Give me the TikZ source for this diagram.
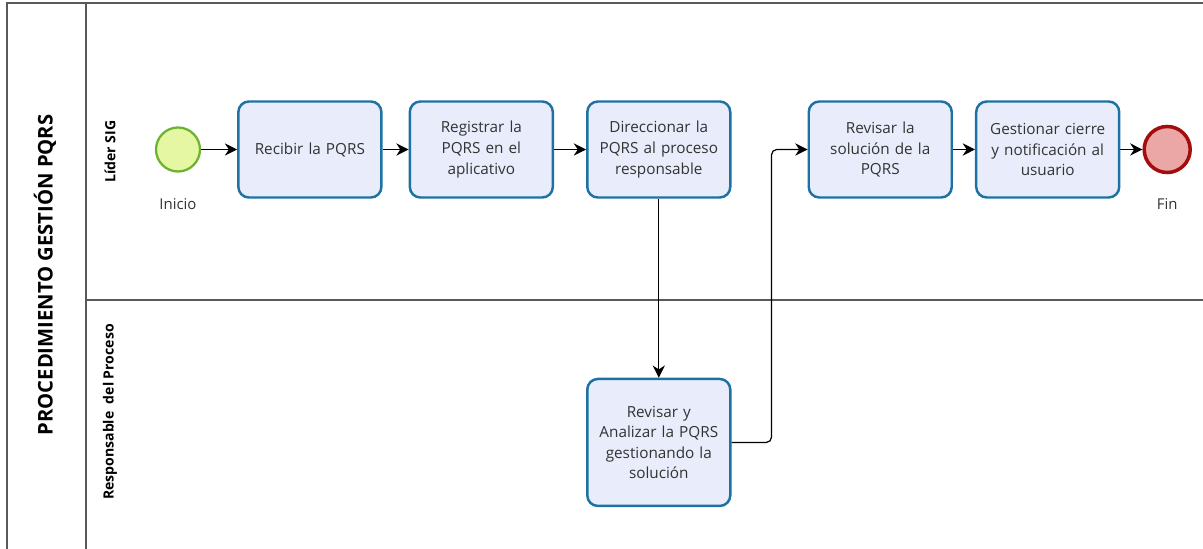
\documentclass[tikz,border=0pt]{standalone}
\usepackage{fontspec}
\setmainfont{Open Sans}
\usepackage{tikz}
\usetikzlibrary{arrows.meta,shapes,positioning,calc}
\definecolor{taskfill}{HTML}{E8ECFB}
\definecolor{taskdraw}{HTML}{1D72A3}
\definecolor{startfill}{HTML}{E6F7A3}
\definecolor{startdraw}{HTML}{6DB32F}
\definecolor{endfill}{HTML}{EBA6A6}
\definecolor{enddraw}{HTML}{A30D0D}
\definecolor{txt}{HTML}{333333}
\tikzset{
    task/.style={
        rectangle,
        rounded corners=6pt,
        line width=1.4pt,
        draw=taskdraw,
        fill=taskfill,
        text=txt,
        align=center,
        text width=2.7cm,
        minimum width=2.86cm,
        minimum height=1.92cm,
        font=\fontsize{8.7}{11.7}\selectfont,
    },
    startev/.style={
        circle,
        line width=1.3pt,
        draw=startdraw,
        fill=startfill,
        minimum size=0.88cm,
    },
    endev/.style={
        circle,
        line width=2pt,
        draw=enddraw,
        fill=endfill,
        minimum size=0.92cm,
    },
    evlabel/.style={
        text=txt,
        font=\fontsize{8.5}{10}\selectfont,
    },
    lanelabel/.style={
        rotate=90,
        font=\bfseries\fontsize{8}{9}\selectfont,
    },
    frame/.style={
        draw=black!65,
        line width=0.6pt,
    },
    flow/.style={
        ->,
        line width=0.7pt,
    },
}

\begin{document}
\begin{tikzpicture}[>={Stealth[length=7pt,width=7pt]}, every node/.style={inner sep=2pt}]
	    \useasboundingbox (0,0) rectangle (24.06,-10.98);
	    % pool and lanes
	    \draw [frame] (24.06,-0.06) -- (0.14,-0.06) -- (0.14,-10.98);
	    \draw [frame] (1.72,-0.06) -- (1.72,-10.98);
	    \draw [frame] (1.72,-6.0) -- (24.06,-6.0);
	    \node [rotate=90,font=\bfseries\fontsize{11.5}{13}\selectfont] (pool) at (0.9,-5.5) {PROCEDIMIENTO GESTIÓN PQRS};
	    \node [lanelabel] (lane1) at (2.2,-3.03) {Líder SIG};
	    \node [lanelabel] (lane2) at (2.2,-8.24) {Responsable\ \ del Proceso};
	    % events and tasks
	    \node [startev] (inicio) at (3.56,-2.99) {};
	    \node [evlabel] (inicioL) [below=0.45cm of inicio] {Inicio};
	    \node [task] (recibir) [right=0.72cm of inicio] {Recibir la PQRS};
	    \node [task] (registrar) [right=0.52cm of recibir] {Registrar la\\PQRS en el\\aplicativo};
	    \node [task] (direccionar) [right=0.64cm of registrar] {Direccionar la\\PQRS al proceso\\responsable};
	    \node [task] (revisar) [right=1.52cm of direccionar] {Revisar la\\solución de la\\PQRS};
	    \node [task] (gestionar) [right=0.44cm of revisar] {Gestionar cierre\\y notificación al\\usuario};
	    \node [endev] (fin) [right=0.44cm of gestionar] {};
	    \node [evlabel] (finL) [below=0.4cm of fin] {Fin};
	    \node [task,minimum height=2.54cm] (analizar) [below=3.58cm of direccionar] {Revisar y\\Analizar la PQRS\\gestionando la\\solución};
	    % sequence flows
	    \draw [flow] (inicio) -- (recibir);
	    \draw [flow] (recibir) -- (registrar);
	    \draw [flow] (registrar) -- (direccionar);
	    \draw [flow] (direccionar) -- (analizar);
	    \draw [flow,rounded corners=3pt] (analizar.east) -- ++(0.8,0) |- (revisar.west);
	    \draw [flow] (revisar) -- (gestionar);
	    \draw [flow] (gestionar) -- (fin);
	\end{tikzpicture}
\end{document}
